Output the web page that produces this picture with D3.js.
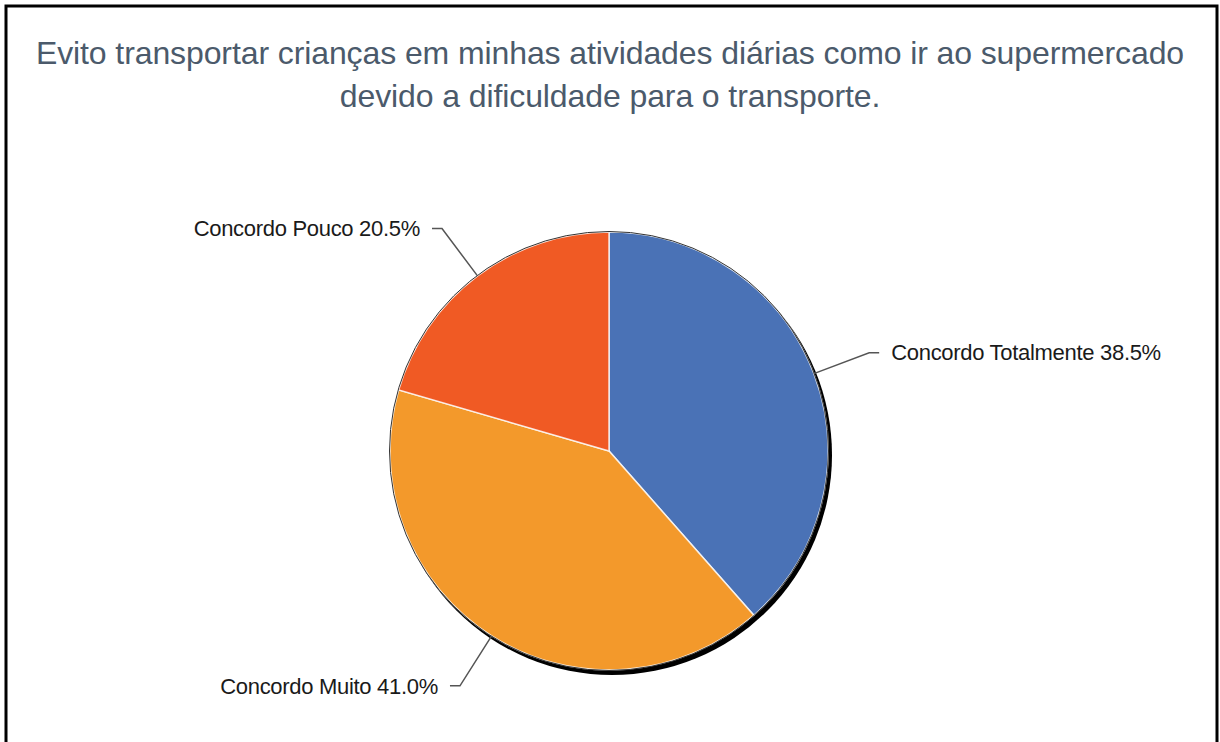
<!DOCTYPE html>
<html>
<head>
<meta charset="utf-8">
<script src="https://cdn.jsdelivr.net/npm/d3@7"></script>
<style>
  body { margin: 0; background: #fff; }
  svg { display: block; }
</style>
</head>
<body>
<div id="chart"></div>
<script>
// chart data
const titleLines = ["Evito transportar crianças em minhas atividades diárias como ir ao supermercado",
                    "devido a dificuldade para o transporte."];
const categories = ["Concordo Totalmente", "Concordo Muito", "Concordo Pouco"];
const values = [38.5, 41.0, 20.5];
const colors = ["#4a72b6", "#f3992b", "#f05a24"];

const width = 1220, height = 742;
const cx = 609, cy = 451, r = 219;

const svg = d3.select("#chart").append("svg")
  .attr("width", width)
  .attr("height", height);

// frame (no bottom edge visible)
svg.append("path")
  .attr("d", `M6,${height} L6,6 L1217,6 L1217,${height}`)
  .attr("fill", "none")
  .attr("stroke", "#000")
  .attr("stroke-width", 3);

// title
svg.append("g").selectAll("text")
  .data(titleLines)
  .enter().append("text")
  .attr("x", 610)
  .attr("y", (d, i) => 64 + i * 43)
  .attr("text-anchor", "middle")
  .attr("font-family", "Liberation Sans, Arial, sans-serif")
  .attr("font-size", 32)
  .attr("letter-spacing", -0.1)
  .attr("fill", "#4b5a6b")
  .text(d => d);

const data = categories.map((c, i) => ({ name: c, value: values[i], color: colors[i] }));

const pie = d3.pie().sort(null).value(d => d.value);
const arcs = pie(data);
const arc = d3.arc().innerRadius(0).outerRadius(r);

const g = svg.append("g").attr("transform", `translate(${cx},${cy})`);

// shadow
g.append("circle")
  .attr("cx", 3).attr("cy", 4).attr("r", r + 1)
  .attr("fill", "#000");

g.selectAll(".slice")
  .data(arcs)
  .enter().append("path")
  .attr("class", "slice")
  .attr("d", arc)
  .attr("fill", d => d.data.color)
  .attr("stroke", "#fff")
  .attr("stroke-opacity", 0.8)
  .attr("stroke-width", 1.5);

g.append("circle")
  .attr("r", r + 0.5)
  .attr("fill", "none")
  .attr("stroke", "#333")
  .attr("stroke-width", 1);

// leader lines + labels
const fmt = d3.format(".1f");
arcs.forEach(d => {
  const a = (d.startAngle + d.endAngle) / 2;
  const sx = Math.sin(a), sy = -Math.cos(a);
  const p0 = [sx * r, sy * r];
  const p1 = [sx * r * 1.27, sy * r * 1.27];
  const dir = sx >= 0 ? 1 : -1;
  const p2 = [p1[0] + dir * 10, p1[1]];
  g.append("polyline")
    .attr("points", [p0, p1, p2].map(p => p.join(",")).join(" "))
    .attr("fill", "none")
    .attr("stroke", "#555")
    .attr("stroke-width", 1.5);
  g.append("text")
    .attr("x", p2[0] + dir * 12)
    .attr("y", p2[1])
    .attr("dy", "0.35em")
    .attr("text-anchor", dir > 0 ? "start" : "end")
    .attr("font-family", "Liberation Sans, Arial, sans-serif")
    .attr("font-size", 22)
    .attr("letter-spacing", -0.3)
    .attr("fill", "#1a1a1a")
    .text(`${d.data.name} ${fmt(d.data.value)}%`);
});
</script>
</body>
</html>
